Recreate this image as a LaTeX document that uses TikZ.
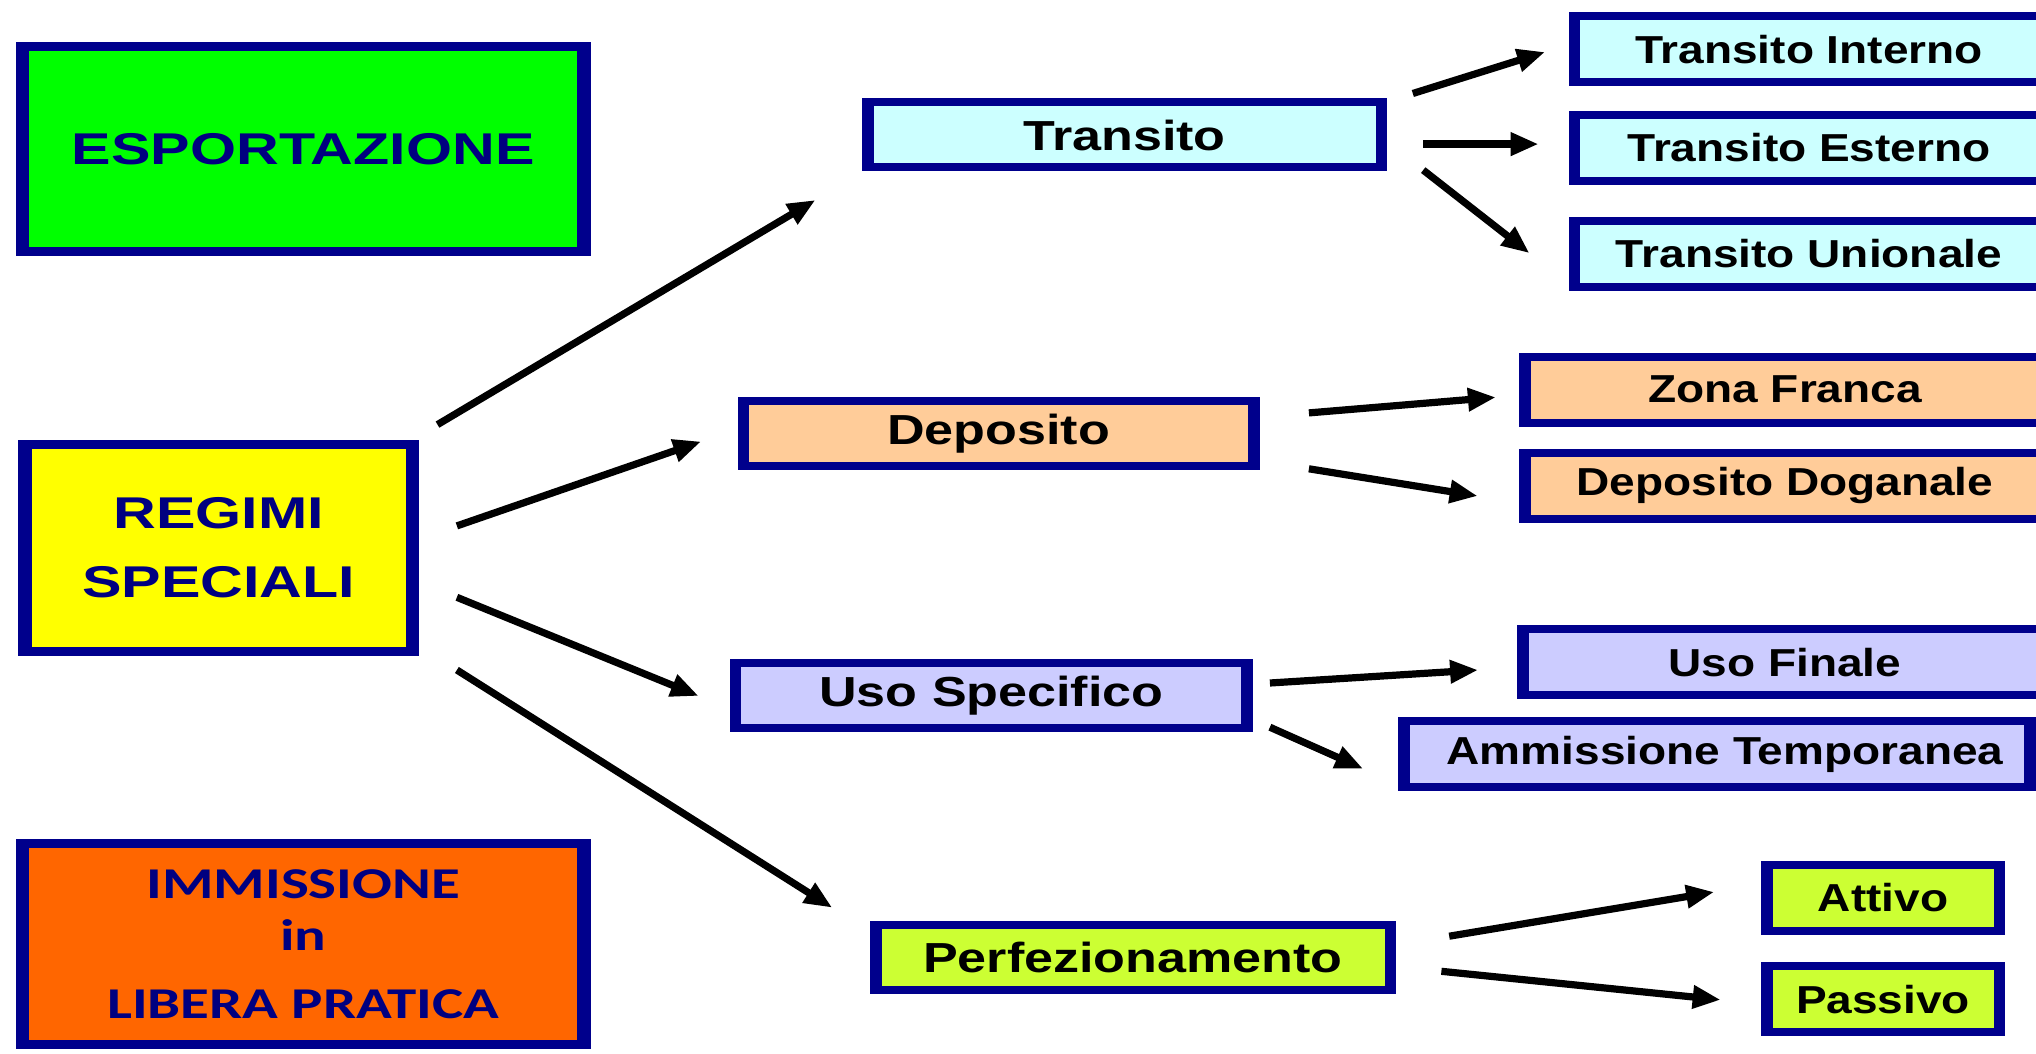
\documentclass[tikz,border=0pt]{standalone}
\usepackage{fontspec}
\setmainfont{Liberation Sans}
\newfontfamily\fbig[FakeStretch=1.33]{Liberation Sans}
\newfontfamily\fmid[FakeStretch=1.24]{Liberation Sans}
\newfontfamily\fsm[FakeStretch=1.18]{Liberation Sans}
\newfontfamily\calib[FakeStretch=1.34]{Carlito}
\usetikzlibrary{arrows.meta,calc}
\definecolor{navyb}{RGB}{0,0,140}
\definecolor{navyt}{RGB}{0,0,128}
\definecolor{cesp}{RGB}{0,255,0}
\definecolor{creg}{RGB}{255,255,0}
\definecolor{cimm}{RGB}{255,102,0}
\definecolor{ctra}{RGB}{204,255,255}
\definecolor{cdep}{RGB}{255,204,153}
\definecolor{cuso}{RGB}{204,204,255}
\definecolor{cper}{RGB}{204,255,51}
\tikzset{
  framebox/.style n args={5}{rectangle, fill=navyb, draw=none, inner sep=0pt, outer sep=0pt,
    minimum width=#1*0.5pt, minimum height=#2*0.5pt, align=center,
    path picture={\fill[#3] ([xshift=#4*0.5pt,yshift=-#5*0.5pt]path picture bounding box.north west)
      rectangle ([xshift=-#4*0.5pt,yshift=#5*0.5pt]path picture bounding box.south east);}},
  big/.style n args={3}{framebox={#1}{#2}{#3}{13.5}{9}, text=navyt,
    font=\fbig\bfseries\fontsize{22.25}{34.5}\selectfont},
  mid/.style 2 args={framebox={#1}{73}{#2}{11.5}{8}, text=black,
    font=\fmid\bfseries\fontsize{21}{25}\selectfont},
  sm/.style 2 args={framebox={#1}{74}{#2}{11.5}{8}, text=black,
    font=\fsm\bfseries\fontsize{19.5}{23}\selectfont},
  arr/.style={-{Triangle[length=14pt,width=11pt]}, line width=3.6pt, black},
}
\begin{document}
\begin{tikzpicture}[x=0.5pt,y=-0.5pt]
\useasboundingbox (0,0) rectangle (2036,1054);
\fill[white] (0,0) rectangle (2036,1054);
\clip (0,0) rectangle (2036,1054);
% left column
\node[big={575}{214}{cesp}] (esp) at (303.2,148.7) {ESPORTAZIONE};
\node[big={401}{215.5}{creg}] (reg) at (218.8,548) {REGIMI\\SPECIALI};
\node[big={575}{210.4}{cimm}, font=\calib\bfseries\fontsize{22}{26}\selectfont] (imm) at (303.2,944) {IMMISSIONE\\in\\[8pt]LIBERA PRATICA};
% middle column
\node[mid={525}{ctra}] (tra) at (1124.5,135) {Transito};
\node[mid={522}{cdep}] (dep) at (998.5,433.7) {Deposito};
\node[mid={523}{cuso}] (uso) at (991.4,695.4) {Uso Specifico};
\node[mid={526}{cper}] (per) at (1133,957.7) {Perfezionamento};
% right column
\node[sm={481}{ctra}] (ti) at (1809,49.3) {Transito Interno};
\node[sm={481}{ctra}] (te) at (1809,148) {Transito Esterno};
\node[sm={481}{ctra}] (tu) at (1809,253.9) {Transito Unionale};
\node[sm={532}{cdep}] (zf) at (1785,389.5) {Zona Franca};
\node[sm={532}{cdep}] (dd) at (1785,485.6) {Deposito Doganale};
\node[sm={536}{cuso}] (uf) at (1785,662.2) {Uso Finale};
\node[sm={637.5}{cuso}] (at) at (1717,754.4) {\hspace*{8pt}Ammissione Temporanea};
\node[sm={244}{cper}] (att) at (1883,898) {Attivo};
\node[sm={244}{cper}] (pas) at (1883,999.2) {Passivo};
% arrows
\draw[arr] ($(reg.east)+(18.2,-123.4)$) -- ($(tra.west)+(-46.5,65)$);
\draw[arr] ($(reg.east)+(37.6,-22.1)$) -- ($(dep.west)+(-36.3,7.8)$);
\draw[arr] ($(reg.east)+(37.6,49.3)$) -- ($(uso.west)+(-31.2,0.6)$);
\draw[arr] ($(reg.east)+(37.6,122)$) -- ($(per.west)+(-37.7,-50)$);
\draw[arr] ($(tra.east)+(25.8,-41.5)$) -- ($(ti.west)+(-23.4,2.7)$);
\draw[arr] ($(tra.east)+(36.2,9.1)$) -- ($(te.west)+(-29.9,-3.9)$);
\draw[arr] ($(tra.east)+(36.2,35.1)$) -- ($(tu.west)+(-39,-0.7)$);
\draw[arr] ($(dep.east)+(49.4,-20.8)$) -- ($(zf.west)+(-23.1,7.8)$);
\draw[arr] ($(dep.east)+(49.4,35.1)$) -- ($(dd.west)+(-41.3,10.4)$);
\draw[arr] ($(uso.east)+(17,-12.4)$) -- ($(uf.west)+(-38.9,7.8)$);
\draw[arr] ($(uso.east)+(17,31.8)$) -- ($(at.west)+(-35.1,14.3)$);
\draw[arr] ($(per.east)+(53.2,-21.5)$) -- ($(att.west)+(-46.8,-6)$);
\draw[arr] ($(per.east)+(45.4,13.6)$) -- ($(pas.west)+(-40.3,0.6)$);
\end{tikzpicture}
\end{document}
